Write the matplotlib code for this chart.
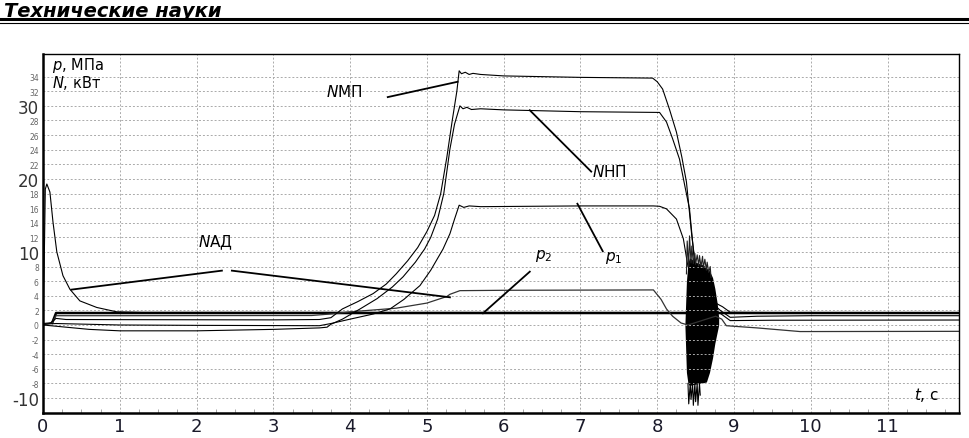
import matplotlib
matplotlib.use("Agg")
from matplotlib import pyplot as plt
from matplotlib.lines import Line2D

# N МП (power of motor-pump)
n_mp_t = [0, 0.1, 0.17, 0.3, 1.0, 3.0, 3.6, 3.75, 3.9, 4.1, 4.3, 4.47, 4.6, 4.75, 4.88, 5.0,
          5.1, 5.18, 5.26, 5.33, 5.39, 5.42, 5.45, 5.5, 5.55, 5.6, 5.7, 6.0, 7.0, 7.94, 8.0,
          8.07, 8.16, 8.25, 8.32, 8.38, 8.45, 8.5, 8.6, 8.7, 8.76, 8.85, 8.95, 9.5, 11.93]
n_mp_v = [0.2, 0.3, 0.9, 0.75, 0.73, 0.7, 0.75, 1.0, 2.2, 3.2, 4.3, 5.6, 7.0, 8.8, 10.6, 12.8,
          15.0, 18.0, 23.0, 28.0, 32.0, 34.8, 34.4, 34.6, 34.3, 34.45, 34.3, 34.1, 33.9, 33.8, 33.3,
          32.3, 29.5, 26.4, 23.0, 19.6, 12.2, 8.0, 7.0, 5.0, 3.0, 2.5, 1.74, 1.7, 1.7]

# N НП
n_np_t = [0, 0.3, 0.6, 1.0, 2.0, 3.0, 3.6, 3.7, 3.75, 3.9, 4.13, 4.35, 4.55, 4.69, 4.85, 4.97,
          5.05, 5.14, 5.22, 5.30, 5.36, 5.43, 5.47, 5.52, 5.58, 5.7, 6.0, 7.0, 8.03, 8.12, 8.2,
          8.29, 8.36, 8.42, 8.5, 8.7, 8.77, 8.82, 8.95, 9.3, 10.0, 11.93]
n_np_v = [0, -0.3, -0.6, -0.8, -0.8, -0.6, -0.4, -0.3, 0.1, 0.8, 2.2, 3.6, 5.2, 6.6, 8.6, 10.4,
          12.0, 14.5, 18.0, 24.1, 27.5, 30.0, 29.6, 29.8, 29.5, 29.6, 29.45, 29.2, 29.1, 27.8, 25.5,
          22.7, 19.0, 15.9, 7.0, 4.0, 2.5, 2.0, 1.05, 1.2, 1.27, 1.27]

# p1
p1_t = [0, 0.17, 1.0, 2.0, 3.6, 3.75, 4.0, 4.3, 4.52, 4.7, 4.91, 5.05, 5.21, 5.3, 5.36, 5.42,
        5.48, 5.55, 5.7, 7.0, 7.95, 8.03, 8.12, 8.25, 8.34, 8.4, 8.6, 8.76, 8.82, 8.95, 9.5, 11.93]
p1_v = [0.1, 0.2, 0.0, -0.05, -0.1, 0.2, 0.8, 1.5, 2.2, 3.5, 5.4, 7.5, 10.4, 12.5, 14.5, 16.4,
        16.1, 16.3, 16.2, 16.3, 16.3, 16.25, 15.9, 14.5, 11.8, 8.0, 5.0, 2.0, 1.6, 0.6, 0.65, 0.68]

# p2
p2_t = [0, 0.12, 0.17, 1.0, 3.5, 3.74, 4.0, 4.6, 5.0, 5.26, 5.3, 5.43, 6.0, 7.95, 8.05, 8.12,
        8.2, 8.31, 8.4, 8.76, 8.84, 8.9, 9.3, 9.86, 11.93]
p2_v = [0, 0.3, 1.27, 1.27, 1.3, 1.5, 1.8, 2.3, 3.0, 3.9, 4.2, 4.7, 4.75, 4.8, 3.5, 2.2,
        1.2, 0.27, 0.0, 1.2, 0.8, -0.1, -0.4, -0.9, -0.87]

# N АД
n_ad_t = [0, 0.015, 0.03, 0.05, 0.09, 0.13, 0.18, 0.26, 0.35, 0.48, 0.70, 0.96, 1.3, 11.93]
n_ad_v = [0, 8.0, 18.6, 19.3, 18.2, 14.1, 10.0, 6.75, 4.9, 3.3, 2.4, 1.8, 1.72, 1.7]

# thick level line
base_t = [0.12, 0.17, 11.93]
base_v = [0.3, 1.64, 1.64]

# oscillation burst near t = 8.4 .. 8.8
osc_t = [8.36, 8.38, 8.40, 8.42, 8.45, 8.50, 8.55, 8.60, 8.64, 8.68, 8.72, 8.75, 8.78, 8.80]
osc_hi = [0, 6.0, 8.5, 9.2, 9.0, 8.6, 8.4, 8.2, 7.8, 7.4, 6.5, 5.0, 3.0, 1.0]
osc_lo = [0, -6.5, -8.0, -8.3, -8.2, -8.1, -8.0, -7.9, -7.8, -6.5, -4.5, -2.5, -1.0, 0]
spike_lo_t = [8.40, 8.41, 8.43, 8.44, 8.46, 8.47, 8.49, 8.50, 8.52, 8.53, 8.55, 8.56]
spike_lo_v = [-8, -10.8, -8, -10.2, -8, -11.0, -8, -10.5, -8, -11.0, -8, -9.6]
spike_hi_t = [8.38, 8.39, 8.41, 8.42, 8.44, 8.45, 8.47, 8.49, 8.50, 8.52, 8.54, 8.55,
              8.57, 8.59, 8.60, 8.62, 8.64, 8.65, 8.67, 8.69, 8.70]
spike_hi_v = [7, 11.5, 8, 12.2, 8.5, 10.8, 8.4, 9.8, 8.3, 9.6, 8.1, 9.5,
              8.0, 9.4, 7.8, 9.0, 7.5, 8.6, 7.2, 8.0, 6.5]

x_ticks = list(range(0, 12))
y_ticks = list(range(-10, 35, 2))
big_y = [-10, 10, 20, 30]

fig = plt.figure(figsize=(9.69, 4.39), dpi=100)
ax = fig.add_axes([43 / 969, 1 - 414 / 439, (959 - 43) / 969, (414 - 55) / 439])

# header
fig.text(0.004, 0.995, "Технические науки", ha="left", va="top", fontsize=14,
         fontweight="bold", style="italic")
fig.add_artist(Line2D([0, 1], [0.955, 0.955], transform=fig.transFigure, color="black", lw=2.2))
fig.add_artist(Line2D([0, 1], [0.946, 0.946], transform=fig.transFigure, color="black", lw=0.8))

ax.plot(base_t, base_v, color="black", lw=1.8)
ax.plot(n_ad_t, n_ad_v, color="black", lw=0.8)
ax.plot(p2_t, p2_v, color="#333333", lw=0.9)
ax.plot(p1_t, p1_v, color="black", lw=0.8)
ax.plot(n_np_t, n_np_v, color="black", lw=0.8)
ax.plot(n_mp_t, n_mp_v, color="black", lw=0.8)

ax.fill_between(osc_t, osc_lo, osc_hi, color="black", lw=0)
ax.plot(spike_lo_t, spike_lo_v, color="black", lw=0.8)
ax.plot(spike_hi_t, spike_hi_v, color="#222222", lw=0.8)

# leader lines
lead = "black"
ax.plot([4.49, 5.40], [31.2, 33.3], color=lead, lw=1.3)
ax.plot([6.34, 7.14], [29.4, 21.0], color=lead, lw=1.3)
ax.plot([6.96, 7.29], [16.6, 10.1], color=lead, lw=1.3)
ax.plot([5.73, 6.34], [1.6, 7.3], color=lead, lw=1.3)
ax.plot([0.37, 2.33], [4.84, 7.44], color=lead, lw=1.3)
ax.plot([2.46, 5.30], [7.44, 3.79], color=lead, lw=1.3)

fs = 11
ax.text(3.68, 32.05, r"$\it{N}$МП", fontsize=fs, va="center")
ax.text(7.15, 21.1, r"$\it{N}$НП", fontsize=fs, va="center")
ax.text(7.32, 9.3, r"$\it{p}_1$", fontsize=fs, va="center")
ax.text(6.41, 9.6, r"$\it{p}_2$", fontsize=fs, va="center")
ax.text(2.02, 11.4, r"$\it{N}$АД", fontsize=fs, va="center")
ax.text(0.12, 35.65, r"$\it{p}$, МПа", fontsize=10.5, va="center")
ax.text(0.12, 33.3, r"$\it{N}$, кВт", fontsize=10.5, va="center")
ax.text(11.35, -9.45, r"$\it{t}$, с", fontsize=fs, va="center")

ax.set_xlim(0, 11.93)
ax.set_ylim(-12.05, 37.1)
ax.set_xticks(x_ticks)
ax.set_xticklabels([str(v) for v in x_ticks], fontsize=13, color="#1a1a2a",
                   family=["Liberation Sans Narrow", "DejaVu Sans"])
ax.set_xticks([v / 4 for v in range(0, 48)], minor=True)
ax.set_yticks(y_ticks)
ax.set_yticklabels([str(v) for v in y_ticks])
for lab, v in zip(ax.get_yticklabels(), y_ticks):
    if v in big_y:
        lab.set_fontsize(12)
        lab.set_color("#333333")
    else:
        lab.set_fontsize(5.5)
        lab.set_color("#666666")
ax.tick_params(axis="x", which="major", length=0, pad=3)
ax.tick_params(axis="x", which="minor", length=3, direction="in", color="#999999")
ax.tick_params(axis="y", length=0, pad=3)

ax.grid(True, which="major", ls=(0, (2, 2)), color="#aaaaaa", lw=0.7)
for side in ["left", "bottom"]:
    ax.spines[side].set_linewidth(1.8)
for side in ["top", "right"]:
    ax.spines[side].set_linewidth(1.0)

fig.savefig("out.png", dpi=100)
